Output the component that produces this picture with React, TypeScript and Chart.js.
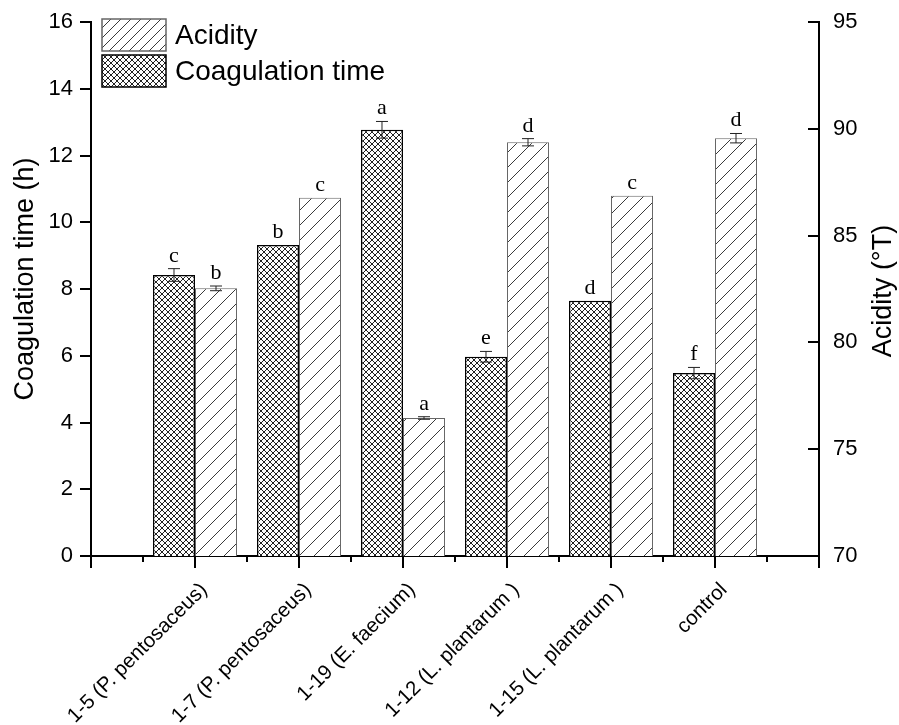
import React, { useEffect, useRef } from 'react';
import { Chart, registerables } from 'chart.js';

Chart.register(...registerables);

const categories = [
  '1-5 (P. pentosaceus)',
  '1-7 (P. pentosaceus)',
  '1-19 (E. faecium)',
  '1-12 (L. plantarum )',
  '1-15 (L. plantarum )',
  'control',
];
const coagulationTime = [8.42, 9.32, 12.77, 5.97, 7.65, 5.48];
const coagulationErr = [0.19, 0, 0.25, 0.16, 0, 0.17];
const coagulationLetters = ['c', 'b', 'a', 'e', 'd', 'f'];
const acidity = [82.53, 86.77, 76.46, 89.37, 86.86, 89.56];
const acidityErr = [0.11, 0, 0.06, 0.17, 0, 0.22];
const acidityLetters = ['b', 'c', 'a', 'd', 'c', 'd'];

const leftTitle = 'Coagulation time (h)';
const rightTitle = 'Acidity (°T)';
const legendLabels = ['Acidity', 'Coagulation time'];

const SANS = '"Liberation Sans", Arial, sans-serif';
const SERIF = '"Liberation Serif", "Times New Roman", serif';

function makeCrossHatch(): CanvasPattern | string {
  const s = 6;
  const c = document.createElement('canvas');
  c.width = s;
  c.height = s;
  const g = c.getContext('2d');
  if (!g) return '#888';
  g.fillStyle = '#ffffff';
  g.fillRect(0, 0, s, s);
  g.strokeStyle = '#222222';
  g.lineWidth = 1;
  g.beginPath();
  for (let k = -1; k <= 1; k++) {
    g.moveTo(k * s, 0);
    g.lineTo(k * s + s, s);
    g.moveTo(k * s + s, 0);
    g.lineTo(k * s, s);
  }
  g.stroke();
  const p = g.createPattern(c, 'repeat');
  return p || '#888';
}

function makeDiagonal(s: number): CanvasPattern | string {
  const c = document.createElement('canvas');
  c.width = s;
  c.height = s;
  const g = c.getContext('2d');
  if (!g) return '#ccc';
  g.fillStyle = '#ffffff';
  g.fillRect(0, 0, s, s);
  g.strokeStyle = '#3a3a3a';
  g.lineWidth = 1;
  g.beginPath();
  for (let k = -1; k <= 1; k++) {
    g.moveTo(k * s, s);
    g.lineTo(k * s + s, 0);
  }
  g.stroke();
  const p = g.createPattern(c, 'repeat');
  return p || '#ccc';
}

export default function App() {
  const ref = useRef<HTMLCanvasElement | null>(null);

  useEffect(() => {
    document.body.style.margin = '0';
    const canvas = ref.current;
    if (!canvas) return;
    const cross = makeCrossHatch();
    const diag = makeDiagonal(15);
    const diagLegend = makeDiagonal(10);

    const labels = ['', ...categories, ''];

    const overlay = {
      id: 'overlay',
      afterDatasetsDraw(chart: any) {
        const ctx = chart.ctx as CanvasRenderingContext2D;
        const xs = chart.scales.x;
        const ys = chart.scales.y;
        const y2 = chart.scales.y2;
        const groups = [
          { ds: 0, vals: coagulationTime, errs: coagulationErr, letters: coagulationLetters, scale: ys },
          { ds: 1, vals: acidity, errs: acidityErr, letters: acidityLetters, scale: y2 },
        ];
        ctx.save();
        groups.forEach((gr) => {
          const meta = chart.getDatasetMeta(gr.ds);
          gr.vals.forEach((v, i) => {
            const el = meta.data[i + 1];
            if (!el) return;
            const x = el.x;
            const top = gr.scale.getPixelForValue(v);
            let hi = top;
            const e = gr.errs[i];
            if (e > 0) {
              hi = gr.scale.getPixelForValue(v + e);
              const lo = gr.scale.getPixelForValue(v - e);
              ctx.strokeStyle = '#222';
              ctx.lineWidth = 1;
              ctx.beginPath();
              ctx.moveTo(x, hi);
              ctx.lineTo(x, lo);
              ctx.moveTo(x - 6, hi);
              ctx.lineTo(x + 6, hi);
              ctx.moveTo(x - 6, lo);
              ctx.lineTo(x + 6, lo);
              ctx.stroke();
            }
            ctx.fillStyle = '#000';
            ctx.font = `22px ${SERIF}`;
            ctx.textAlign = 'center';
            ctx.textBaseline = 'alphabetic';
            ctx.fillText(gr.letters[i], x, Math.min(hi, top) - 7);
          });
        });

        // tick marks
        ctx.strokeStyle = '#000';
        ctx.lineWidth = 2;
        ctx.beginPath();
        const bottom = chart.chartArea.bottom;
        for (let i = 0; i < labels.length; i++) {
          const px = Math.round(xs.getPixelForValue(i));
          ctx.moveTo(px, bottom);
          ctx.lineTo(px, bottom + 12);
          if (i < labels.length - 1) {
            const mx = Math.round((xs.getPixelForValue(i) + xs.getPixelForValue(i + 1)) / 2);
            ctx.moveTo(mx, bottom);
            ctx.lineTo(mx, bottom + 6);
          }
        }
        const left = chart.chartArea.left;
        ys.ticks.forEach((t: any) => {
          const py = Math.round(ys.getPixelForValue(t.value));
          ctx.moveTo(left, py);
          ctx.lineTo(left - 11, py);
        });
        const right = chart.chartArea.right;
        y2.ticks.forEach((t: any) => {
          const py = Math.round(y2.getPixelForValue(t.value));
          ctx.moveTo(right, py);
          ctx.lineTo(right - 11, py);
        });
        ctx.stroke();
        ctx.restore();
      },
      afterDraw(chart: any) {
        const ctx = chart.ctx as CanvasRenderingContext2D;
        ctx.save();
        // legend
        const boxes = [
          { fill: diagLegend, stroke: '#666', lw: 1.5 },
          { fill: cross, stroke: '#000', lw: 1.5 },
        ];
        boxes.forEach((b, i) => {
          const bx = 102;
          const by = 19 + i * 36;
          ctx.fillStyle = b.fill as any;
          ctx.fillRect(bx, by, 64, 32);
          ctx.strokeStyle = b.stroke;
          ctx.lineWidth = b.lw;
          ctx.strokeRect(bx, by, 64, 32);
          ctx.fillStyle = '#000';
          ctx.font = `28px ${SANS}`;
          ctx.textAlign = 'left';
          ctx.textBaseline = 'middle';
          ctx.fillText(legendLabels[i], 175, by + 17);
        });
        // axis titles
        ctx.font = `27px ${SANS}`;
        ctx.fillStyle = '#000';
        ctx.textAlign = 'center';
        ctx.textBaseline = 'middle';
        ctx.save();
        ctx.translate(26, 279);
        ctx.rotate(-Math.PI / 2);
        ctx.fillText(leftTitle, 0, 0);
        ctx.restore();
        ctx.save();
        ctx.translate(884, 291);
        ctx.rotate(-Math.PI / 2);
        ctx.fillText(rightTitle, 0, 0);
        ctx.restore();
        ctx.restore();
      },
    };

    const chart = new Chart(canvas, {
      type: 'bar',
      data: {
        labels,
        datasets: [
          {
            label: 'Coagulation time',
            data: [null, ...coagulationTime, null] as any,
            yAxisID: 'y',
            backgroundColor: cross as any,
            borderColor: '#000',
            borderWidth: 1.5,
            categoryPercentage: 0.808,
            barPercentage: 1.0,
          },
          {
            label: 'Acidity',
            data: [null, ...acidity, null] as any,
            yAxisID: 'y2',
            backgroundColor: diag as any,
            borderColor: '#666',
            borderWidth: 1,
            categoryPercentage: 0.808,
            barPercentage: 1.0,
          },
        ],
      },
      options: {
        responsive: false,
        animation: false,
        devicePixelRatio: 1,
        layout: { padding: { top: 22, left: 0, right: 0, bottom: 0 } },
        plugins: {
          legend: { display: false },
          tooltip: { enabled: false },
        },
        scales: {
          x: {
            type: 'category',
            offset: false,
            grid: { display: false, drawTicks: false },
            border: { display: true, color: '#000', width: 2 },
            ticks: {
              autoSkip: false,
              maxRotation: 45,
              minRotation: 45,
              padding: 22,
              labelOffset: 9,
              color: '#000',
              font: { family: SANS, size: 20.5 },
            },
            afterFit: (s: any) => {
              s.height = 169;
              s.paddingLeft = 0;
              s.paddingRight = 0;
            },
          },
          y: {
            position: 'left',
            min: 0,
            max: 16,
            grid: { display: false, drawTicks: false },
            border: { display: true, color: '#000', width: 2 },
            ticks: { stepSize: 2, padding: 18, color: '#000', font: { family: SANS, size: 22 } },
            afterFit: (s: any) => {
              s.width = 91;
              s.paddingTop = 0;
              s.paddingBottom = 0;
            },
          },
          y2: {
            position: 'right',
            min: 70,
            max: 95,
            grid: { display: false, drawTicks: false },
            border: { display: true, color: '#000', width: 2 },
            ticks: { stepSize: 5, padding: 14, color: '#000', font: { family: SANS, size: 22 } },
            afterFit: (s: any) => {
              s.width = 80;
              s.paddingTop = 0;
              s.paddingBottom = 0;
            },
          },
        },
      },
      plugins: [overlay],
    });

    return () => {
      chart.destroy();
    };
  }, []);

  return (
    <div style={{ width: 899, height: 725, background: '#fff' }}>
      <canvas ref={ref} width={899} height={725} style={{ display: 'block' }} />
    </div>
  );
}
